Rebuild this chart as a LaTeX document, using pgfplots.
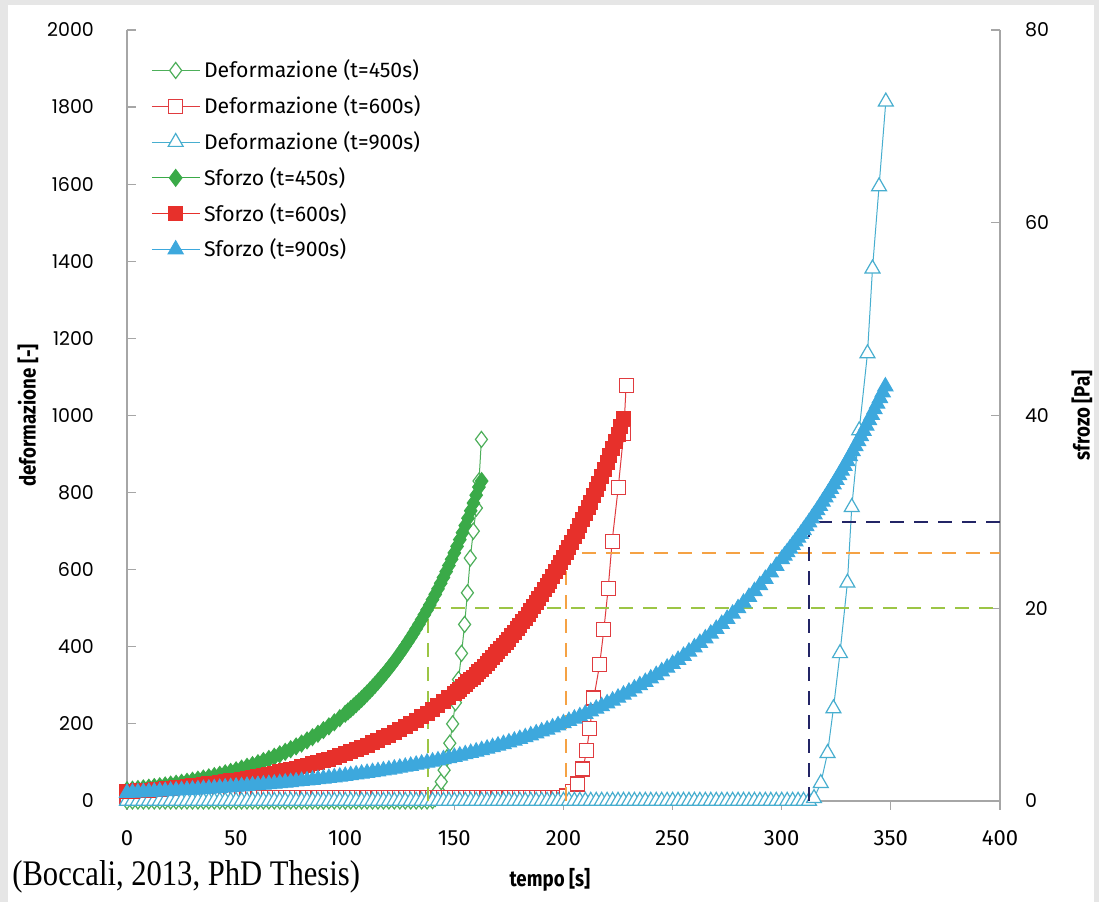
\documentclass[border=0pt]{standalone}
\usepackage{fontspec}
\setmainfont{Fira Sans}
\newfontfamily\tickfont{Poppins}
\newfontfamily\labfont[FakeStretch=0.85]{Fira Sans}
\newfontfamily\srcfont[FakeStretch=0.85]{Liberation Serif}
\usepackage{pgfplots}
\pgfplotsset{compat=1.18}
\definecolor{cgreen}{HTML}{3AAA48}
\definecolor{dgreen}{HTML}{4DAF5A}
\definecolor{cred}{HTML}{E7302B}
\definecolor{dred}{HTML}{E03B3F}
\definecolor{cblue}{HTML}{3DA8DD}
\definecolor{dblue}{HTML}{47AECF}
\definecolor{dashgreen}{HTML}{9CC545}
\definecolor{dashorange}{HTML}{F5A244}
\definecolor{dashnavy}{HTML}{232566}
\definecolor{axgray}{HTML}{A6A6A6}
\definecolor{bggray}{HTML}{E6E6E6}
\pgfplotsset{
  base/.style={
    scale only axis, width=436.5pt, height=385.5pt,
    xmin=0, xmax=400, at={(0pt,0pt)}, anchor=south west,
    axis line style={-, draw=axgray, line width=0.6pt},
    tick style={draw=axgray, line width=0.6pt},
    major tick length=4.5pt,
    /pgf/number format/assume math mode=true,
    /pgf/number format/1000 sep={},
  },
  defo/.style={line width=0.5pt, mark options={solid, fill=white, line width=0.6pt}},
  str/.style={line width=0.5pt, mark options={solid}},
  dashl/.style={forget plot, line width=1pt, dash pattern=on 7pt off 5pt},
}
\begin{document}
\begin{tikzpicture}
\fill[bggray] (-63.5pt,-50.5pt) rectangle (486pt,400.5pt);
\fill[white] (-59.5pt,-50.5pt) rectangle (483.5pt,398pt);
% left y axis
\begin{axis}[base, ymin=0, ymax=2000, ytick={0,200,...,2000},
  axis x line=none, axis y line*=left, tick align=inside,
  yticklabel style={font=\tickfont\fontsize{9.5}{10}\selectfont, xshift=-13pt},
  ylabel={deformazione [-]},
  every axis y label/.style={at={([xshift=-49.5pt]rel axis cs:0,0.5)}, rotate=90, anchor=center, font=\labfont\bfseries\fontsize{11}{12}\selectfont}]
\end{axis}
% x axis + deformation
\begin{axis}[base, ymin=0, ymax=2000,
  axis y line=none, axis x line*=bottom, tick align=outside,
  xtick={0,50,...,400},
  xticklabel style={font=\fontsize{11}{12}\selectfont, yshift=-7pt},
  xlabel={tempo [s]},
  every axis x label/.style={at={([yshift=-39.5pt]rel axis cs:0.4845,0)}, anchor=center, font=\labfont\bfseries\fontsize{11}{12}\selectfont}]
\addplot[defo, color=dgreen, mark=diamond*, mark size=4pt] coordinates {
(0,0) (2.5,0) (5,0) (7.5,0) (10,0) (12.5,0) (15,0) (17.5,0) (20,0) (22.5,0)
(25,0) (27.5,0) (30,0) (32.5,0) (35,0) (37.5,0) (40,0) (42.5,0) (45,0) (47.5,0)
(50,0) (52.5,0) (55,0) (57.5,0) (60,0) (62.5,0) (65,0) (67.5,0) (70,0) (72.5,0)
(75,0) (77.5,0) (80,0) (82.5,0) (85,0) (87.5,0) (90,0) (92.5,0) (95,0) (97.5,0)
(100,0) (102.5,0) (105,0) (107.5,0) (110,0) (112.5,0) (115,0) (117.5,0) (120,0) (122.5,0)
(125,0) (127.5,0) (130,0) (132.5,0) (135,0) (137.5,0)
(140,1) (141.3,7) (142.7,28) (144,50) (145.3,80) (146.6,112) (147.9,150) (149.2,200)
(150.5,255) (151.9,315) (153.3,383) (154.7,458) (156.0,540) (157.3,630) (158.7,700)
(160.1,760) (161.3,830) (162.4,938)};
\addplot[defo, color=dred, mark=square*, mark size=3.5pt] coordinates {
(0,10) (2.5,10) (5,10) (7.5,10) (10,10) (12.5,10) (15,10) (17.5,10) (20,10) (22.5,10)
(25,10) (27.5,10) (30,10) (32.5,10) (35,10) (37.5,10) (40,10) (42.5,10) (45,10) (47.5,10)
(50,10) (52.5,10) (55,10) (57.5,10) (60,10) (62.5,10) (65,10) (67.5,10) (70,10) (72.5,10)
(75,10) (77.5,10) (80,10) (82.5,10) (85,10) (87.5,10) (90,10) (92.5,10) (95,10) (97.5,10)
(100,10) (102.5,10) (105,10) (107.5,10) (110,10) (112.5,10) (115,10) (117.5,10) (120,10) (122.5,10)
(125,10) (127.5,10) (130,10) (132.5,10) (135,10) (137.5,10) (140,10) (142.5,10) (145,10) (147.5,10)
(150,10) (152.5,10) (155,10) (157.5,10) (160,10) (162.5,10) (165,10) (167.5,10) (170,10) (172.5,10)
(175,10) (177.5,10) (180,10) (182.5,10) (185,10) (187.5,10) (190,10) (192.5,10) (195,10) (197.5,10)
(200,10) (201.5,13) (204.2,24) (206.6,44) (208.9,83) (210.6,130) (212.0,187) (213.9,267)
(216.6,355) (218.5,444) (220.5,552) (222.3,674) (225.1,813) (227.6,954) (228.7,1077)};
\addplot[defo, color=dblue, mark=triangle*, mark size=4.3pt] coordinates {
(0,0) (2.5,0) (5,0) (7.5,0) (10,0) (12.5,0) (15,0) (17.5,0) (20,0) (22.5,0)
(25,0) (27.5,0) (30,0) (32.5,0) (35,0) (37.5,0) (40,0) (42.5,0) (45,0) (47.5,0)
(50,0) (52.5,0) (55,0) (57.5,0) (60,0) (62.5,0) (65,0) (67.5,0) (70,0) (72.5,0)
(75,0) (77.5,0) (80,0) (82.5,0) (85,0) (87.5,0) (90,0) (92.5,0) (95,0) (97.5,0)
(100,0) (102.5,0) (105,0) (107.5,0) (110,0) (112.5,0) (115,0) (117.5,0) (120,0) (122.5,0)
(125,0) (127.5,0) (130,0) (132.5,0) (135,0) (137.5,0) (140,0) (142.5,0) (145,0) (147.5,0)
(150,0) (152.5,0) (155,0) (157.5,0) (160,0) (162.5,0) (165,0) (167.5,0) (170,0) (172.5,0)
(175,0) (177.5,0) (180,0) (182.5,0) (185,0) (187.5,0) (190,0) (192.5,0) (195,0) (197.5,0)
(200,0) (202.5,0) (205,0) (207.5,0) (210,0) (212.5,0) (215,0) (217.5,0) (220,0) (222.5,0)
(225,0) (227.5,0) (230,0) (232.5,0) (235,0) (237.5,0) (240,0) (242.5,0) (245,0) (247.5,0)
(250,0) (252.5,0) (255,0) (257.5,0) (260,0) (262.5,0) (265,0) (267.5,0) (270,0) (272.5,0)
(275,0) (277.5,0) (280,0) (282.5,0) (285,0) (287.5,0) (290,0) (292.5,0) (295,0) (297.5,0)
(300,0) (302.5,0) (305,0) (307.5,0) (310,0) (312.5,0)
(314.8,7) (317.9,46) (321.0,124) (323.7,240) (326.7,383) (330.1,566) (332.1,762)
(335.5,961) (339.3,1161) (341.6,1381) (344.6,1594) (347.7,1814)};
\end{axis}
% right y axis + stress
\begin{axis}[base, ymin=0, ymax=80, ytick={0,20,...,80},
  axis x line=none, axis y line*=right, tick align=inside,
  yticklabel style={font=\tickfont\fontsize{9.5}{10}\selectfont, xshift=9pt},
  ylabel={sfrozo [Pa]},
  every axis y label/.style={at={([xshift=41pt]rel axis cs:1,0.5)}, rotate=90, anchor=center, font=\labfont\bfseries\fontsize{11}{12}\selectfont},
  legend style={draw=none, fill=none, at={(0.0205,0.972)}, anchor=north west, font=\fontsize{10.6}{13}\selectfont, row sep=3.45pt},
  legend cell align=left,
  legend image code/.code={\draw[mark repeat=2,mark phase=2,#1] plot coordinates {(0cm,0cm) (0.42cm,0cm) (0.84cm,0cm)};}]
\addlegendimage{defo, color=dgreen, mark=diamond*, mark size=4pt}
\addlegendentry{Deformazione (t=450s)}
\addlegendimage{defo, color=dred, mark=square*, mark size=3.5pt}
\addlegendentry{Deformazione (t=600s)}
\addlegendimage{defo, color=dblue, mark=triangle*, mark size=4.3pt}
\addlegendentry{Deformazione (t=900s)}
\addplot[str, color=cgreen, mark=diamond*, mark size=4.2pt] coordinates {
(0,1.12) (2.5,1.18) (5,1.24) (7.5,1.31) (10,1.38) (12.5,1.45) (15,1.53) (17.5,1.61) (20,1.70) (22.5,1.79)
(25,1.89) (27.5,1.99) (30,2.10) (32.5,2.21) (35,2.33) (37.5,2.45) (40,2.58) (42.5,2.72) (45,2.87) (47.5,3.02)
(50,3.18) (52.5,3.36) (55,3.54) (57.5,3.72) (60,3.92) (62.5,4.14) (65,4.36) (67.5,4.59) (70,4.84) (72.5,5.10)
(75,5.37) (77.5,5.66) (80,5.96) (82.5,6.28) (85,6.62) (87.5,6.97) (90,7.35) (92.5,7.74) (95,8.16) (97.5,8.59)
(100,9.05) (101.25,9.29) (102.5,9.54) (103.75,9.79) (105,10.05) (106.25,10.32) (107.5,10.59) (108.75,10.87)
(110,11.16) (111.25,11.46) (112.5,11.76) (113.75,12.07) (115,12.39) (116.25,12.72) (117.5,13.05) (118.75,13.40)
(120,13.75) (121.25,14.11) (122.5,14.49) (123.75,14.87) (125,15.27) (126.25,15.67) (127.5,16.09) (128.75,16.52)
(130,16.95) (131.25,17.40) (132.5,17.86) (133.75,18.33) (135,18.82) (136.25,19.32) (137.5,19.82) (138.75,20.34)
(140,20.89) (141.25,21.44) (142.5,22.01) (143.75,22.59) (145,23.19) (146.25,23.80) (147.5,24.43) (148.75,25.08)
(150,25.74) (151.25,26.42) (152.5,27.12) (153.75,27.84) (155,28.58) (156.25,29.34) (157.5,30.11) (158.75,30.91)
(160,31.73) (161.25,32.57) (162.5,33.2)};
\addlegendentry{Sforzo (t=450s)}
\addplot[str, color=cred, mark=square*, mark size=3.5pt] coordinates {
(0,0.96) (2.5,0.99) (5,1.04) (7.5,1.08) (10,1.12) (12.5,1.17) (15,1.22) (17.5,1.27) (20,1.33) (22.5,1.38)
(25,1.44) (27.5,1.50) (30,1.56) (32.5,1.63) (35,1.69) (37.5,1.77) (40,1.84) (42.5,1.92) (45,2.00) (47.5,2.08)
(50,2.17) (52.5,2.26) (55,2.35) (57.5,2.45) (60,2.55) (62.5,2.66) (65,2.77) (67.5,2.89) (70,3.01) (72.5,3.13)
(75,3.26) (77.5,3.40) (80,3.54) (82.5,3.69) (85,3.84) (87.5,4.00) (90,4.17) (92.5,4.35) (95,4.53) (97.5,4.72)
(100,4.91) (102.5,5.12) (105,5.33) (107.5,5.56) (110,5.79) (112.5,6.03) (115,6.28) (117.5,6.54) (120,6.82) (122.5,7.10)
(125,7.40) (127.5,7.71) (130,8.03) (132.5,8.37) (135,8.72) (137.5,9.08) (140,9.46) (142.5,9.86) (145,10.27) (147.5,10.70)
(150,11.14) (151.25,11.37) (152.5,11.61) (153.75,11.85) (155,12.10) (156.25,12.35) (157.5,12.60) (158.75,12.86)
(160,13.13) (161.25,13.40) (162.5,13.68) (163.75,13.96) (165,14.25) (166.25,14.54) (167.5,14.84) (168.75,15.15)
(170,15.46) (171.25,15.78) (172.5,16.11) (173.75,16.44) (175,16.78) (176.25,17.13) (177.5,17.49) (178.75,17.85)
(180,18.22) (181.25,18.60) (182.5,18.98) (183.75,19.37) (185,19.77) (186.25,20.18) (187.5,20.60) (188.75,21.03)
(190,21.46) (191.25,21.90) (192.5,22.36) (193.75,22.82) (195,23.29) (196.25,23.77) (197.5,24.26) (198.75,24.76)
(200,25.28) (201.25,25.80) (202.5,26.33) (203.75,26.87) (205,27.44) (206.25,28.01) (207.5,28.58) (208.75,29.17)
(210,29.78) (211.25,30.40) (212.5,31.02) (213.75,31.66) (215,32.32) (216.25,32.99) (217.5,33.67) (218.75,34.37)
(220,35.08) (221.25,35.81) (222.5,36.54) (223.75,37.30) (225,38.07) (226.25,38.86) (227.5,39.66)};
\addlegendentry{Sforzo (t=600s)}
\addplot[str, color=cblue, mark=triangle*, mark size=4.4pt] coordinates {
(0,0.83) (2.5,0.86) (5,0.88) (7.5,0.91) (10,0.93) (12.5,0.96) (15,0.99) (17.5,1.02) (20,1.05) (22.5,1.08)
(25,1.11) (27.5,1.14) (30,1.17) (32.5,1.20) (35,1.24) (37.5,1.27) (40,1.31) (42.5,1.35) (45,1.39) (47.5,1.43)
(50,1.47) (52.5,1.51) (55,1.56) (57.5,1.60) (60,1.65) (62.5,1.69) (65,1.74) (67.5,1.79) (70,1.84) (72.5,1.90)
(75,1.95) (77.5,2.01) (80,2.07) (82.5,2.12) (85,2.19) (87.5,2.25) (90,2.31) (92.5,2.38) (95,2.45) (97.5,2.52)
(100,2.59) (102.5,2.67) (105,2.74) (107.5,2.82) (110,2.90) (112.5,2.99) (115,3.07) (117.5,3.16) (120,3.25) (122.5,3.35)
(125,3.44) (127.5,3.54) (130,3.64) (132.5,3.75) (135,3.86) (137.5,3.97) (140,4.08) (142.5,4.20) (145,4.32) (147.5,4.44)
(150,4.57) (152.5,4.70) (155,4.84) (157.5,4.98) (160,5.12) (162.5,5.27) (165,5.42) (167.5,5.58) (170,5.74) (172.5,5.90)
(175,6.07) (177.5,6.25) (180,6.43) (182.5,6.61) (185,6.80) (187.5,7.00) (190,7.20) (192.5,7.40) (195,7.62) (197.5,7.84)
(200,8.06) (202.5,8.30) (205,8.53) (207.5,8.78) (210,9.03) (212.5,9.29) (215,9.56) (217.5,9.83) (220,10.12) (222.5,10.41)
(225,10.71) (227.5,11.02) (230,11.33) (232.5,11.66) (235,12.00) (237.5,12.34) (240,12.70) (242.5,13.06) (245,13.44) (247.5,13.82)
(250,14.22) (252.5,14.63) (255,15.05) (257.5,15.49) (260,15.93) (262.5,16.39) (265,16.86) (267.5,17.35) (270,17.85) (272.5,18.36)
(275,18.89) (277.5,19.43) (280,19.99) (282.5,20.57) (285,21.16) (287.5,21.77) (290,22.39) (292.5,23.04) (295,23.70) (297.5,24.38)
(300,25.09) (301.25,25.45) (302.5,25.81) (303.75,26.18) (305,26.55) (306.25,26.93) (307.5,27.31) (308.75,27.70)
(310,28.10) (311.25,28.50) (312.5,28.91) (313.75,29.32) (315,29.74) (316.25,30.16) (317.5,30.60) (318.75,31.04)
(320,31.48) (321.25,31.93) (322.5,32.38) (323.75,32.84) (325,33.32) (326.25,33.80) (327.5,34.27) (328.75,34.76)
(330,35.26) (331.25,35.76) (332.5,36.28) (333.75,36.80) (335,37.32) (336.25,37.85) (337.5,38.39) (338.75,38.94)
(340,39.50) (341.25,40.06) (342.5,40.64) (343.75,41.22) (345,41.80) (346.25,42.40) (347.5,43.01)};
\addlegendentry{Sforzo (t=900s)}
\addplot[dashl, color=dashgreen] coordinates {(138,0) (138,20) (400,20)};
\addplot[dashl, color=dashorange] coordinates {(201,0) (201,25.7) (400,25.7)};
\addplot[dashl, color=dashnavy] coordinates {(312.3,0) (312.3,28.9) (400,28.9)};
\end{axis}
\node[anchor=west, inner sep=0pt, font=\srcfont\fontsize{18}{18}\selectfont] at (-57.5pt,-38pt) {(Boccali, 2013, PhD Thesis)};
\end{tikzpicture}
\end{document}
